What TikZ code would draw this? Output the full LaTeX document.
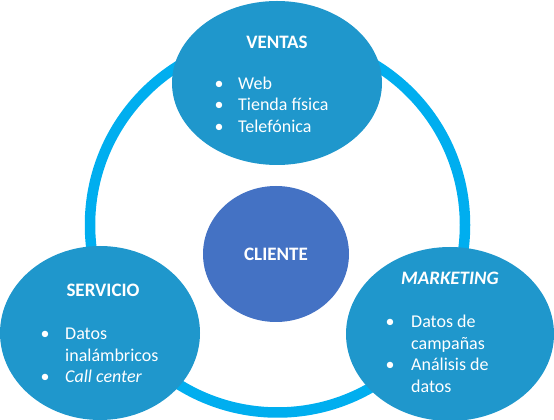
\documentclass[tikz,border=0pt]{standalone}
\usepackage{fontspec}
\setmainfont{Carlito}
\usetikzlibrary{shapes.geometric}
\definecolor{ringblue}{HTML}{00AEEF}
\definecolor{areablue}{HTML}{1F97CC}
\definecolor{coreblue}{HTML}{4472C4}
\newcommand{\diagfont}{\fontsize{18}{21.6}\selectfont}
\newcommand{\headfont}{\fontsize{19}{22.8}\selectfont\bfseries}

\begin{document}
\begin{tikzpicture}[x=1pt, y=1pt,
	ring/.style={draw=ringblue, line width=10.5pt},
	area/.style={ellipse, fill=areablue, inner sep=0pt},
	title/.style={text=white, font=\headfont, inner sep=0pt},
	blist/.style={text=white, font=\diagfont, anchor=west, inner sep=0pt}]
	\useasboundingbox (0,0) rectangle (554,420);
	\coordinate (O) at (277.5,195);
	\draw [ring] (O) circle (187.5pt);
	\node [area, minimum width=210pt, minimum height=164pt] (V) at (277,337) {};
	\node [area, minimum width=200pt, minimum height=174pt] (S) at (100,87) {};
	\node [area, minimum width=208pt, minimum height=174pt] (M) at (450,86) {};
	\node [ellipse, fill=coreblue, minimum width=146pt, minimum height=136pt, text=white, font=\headfont] (C) at (276,166) {CLIENTE};
	\node [title] (Vt) at (277,378) {VENTAS};
	\node [title] (St) at (103,130) {SERVICIO};
	\node [title, font=\headfont\itshape] (Mt) at (450,142) {MARKETING};
	\node [blist] (Vl) at (214.5,313.5) {\begin{tabular}{@{}p{23.5pt}@{}l@{}}
		• & Web\\ • & Tienda física\\ • & Telefónica
	\end{tabular}};
	\node [blist] (Sl) at (40.5,63) {\begin{tabular}{@{}p{24.5pt}@{}l@{}}
		• & Datos\\ & inalámbricos\\ • & \textit{Call center}
	\end{tabular}};
	\node [blist] (Ml) at (385.5,64.5) {\begin{tabular}{@{}p{25.5pt}@{}l@{}}
		• & Datos de\\ & campañas\\ • & Análisis de\\ & datos
	\end{tabular}};
\end{tikzpicture}
\end{document}
